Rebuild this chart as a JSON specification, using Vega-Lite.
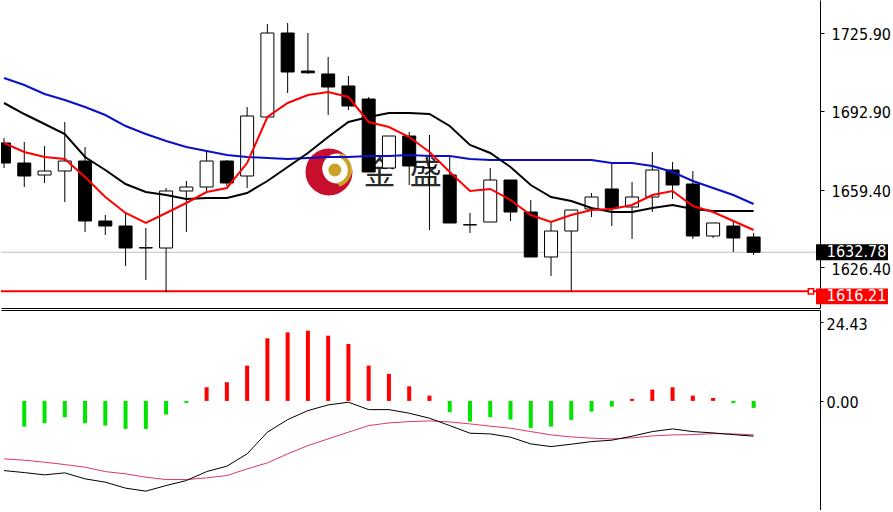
{
  "$schema": "https://vega.github.io/schema/vega-lite/v6.json",
  "padding": 0,
  "background": "white",
  "spacing": 2,
  "config": {
    "view": {"stroke": null},
    "axis": {
      "grid": false,
      "title": null,
      "labelFont": "DejaVu Sans Condensed, Liberation Sans, sans-serif",
      "labelFontSize": 16,
      "labelColor": "#000",
      "domainColor": "#000",
      "tickColor": "#000"
    }
  },
  "resolve": {
    "scale": {"x": "independent", "y": "independent"},
    "axis": {"x": "independent", "y": "independent"}
  },
  "datasets": {
    "k": [
      {"i": 0, "o": 1679.12, "h": 1681.24, "l": 1668.52, "c": 1670.64, "ma5": 1679.12, "ma10": 1696.09, "ma30": 1706.69},
      {"i": 1, "o": 1670.64, "h": 1679.55, "l": 1660.46, "c": 1665.13, "ma5": 1675.31, "ma10": 1691.42, "ma30": 1703.72},
      {"i": 2, "o": 1665.55, "h": 1677.85, "l": 1662.16, "c": 1667.25, "ma5": 1673.19, "ma10": 1687.18, "ma30": 1699.9},
      {"i": 3, "o": 1667.25, "h": 1688.03, "l": 1654.1, "c": 1671.49, "ma5": 1672.34, "ma10": 1682.94, "ma30": 1697.36},
      {"i": 4, "o": 1671.49, "h": 1677.43, "l": 1641.38, "c": 1646.04, "ma5": 1664.7, "ma10": 1673.19, "ma30": 1694.39},
      {"i": 5, "o": 1646.04, "h": 1648.59, "l": 1640.11, "c": 1643.92, "ma5": 1656.22, "ma10": 1667.67, "ma30": 1691.0},
      {"i": 6, "o": 1643.92, "h": 1649.44, "l": 1626.96, "c": 1634.59, "ma5": 1649.44, "ma10": 1661.74, "ma30": 1686.33},
      {"i": 7, "o": 1634.59, "h": 1643.08, "l": 1621.02, "c": 1634.75, "ma5": 1645.2, "ma10": 1658.34, "ma30": 1682.94},
      {"i": 8, "o": 1634.59, "h": 1660.04, "l": 1615.8, "c": 1658.77, "ma5": 1649.44, "ma10": 1657.07, "ma30": 1679.97},
      {"i": 9, "o": 1658.77, "h": 1663.01, "l": 1641.38, "c": 1660.46, "ma5": 1653.68, "ma10": 1655.37, "ma30": 1677.43},
      {"i": 10, "o": 1660.46, "h": 1675.73, "l": 1657.92, "c": 1671.49, "ma5": 1658.34, "ma10": 1655.8, "ma30": 1675.73},
      {"i": 11, "o": 1671.49, "h": 1671.91, "l": 1660.89, "c": 1662.16, "ma5": 1660.04, "ma10": 1655.8, "ma30": 1674.03},
      {"i": 12, "o": 1665.13, "h": 1694.39, "l": 1660.04, "c": 1690.57, "ma5": 1670.64, "ma10": 1657.92, "ma30": 1673.19},
      {"i": 13, "o": 1690.15, "h": 1729.59, "l": 1690.15, "c": 1725.77, "ma5": 1690.15, "ma10": 1663.01, "ma30": 1672.76},
      {"i": 14, "o": 1725.77, "h": 1730.01, "l": 1700.33, "c": 1709.23, "ma5": 1696.09, "ma10": 1668.95, "ma30": 1672.34},
      {"i": 15, "o": 1709.65, "h": 1725.77, "l": 1708.39, "c": 1708.9, "ma5": 1699.48, "ma10": 1674.88, "ma30": 1672.76},
      {"i": 16, "o": 1708.39, "h": 1715.6, "l": 1691.0, "c": 1702.87, "ma5": 1700.75, "ma10": 1681.67, "ma30": 1673.19},
      {"i": 17, "o": 1703.3, "h": 1707.54, "l": 1693.12, "c": 1694.81, "ma5": 1698.63, "ma10": 1688.03, "ma30": 1673.19},
      {"i": 18, "o": 1697.78, "h": 1698.63, "l": 1666.83, "c": 1666.83, "ma5": 1688.03, "ma10": 1690.15, "ma30": 1673.61},
      {"i": 19, "o": 1668.52, "h": 1682.09, "l": 1668.52, "c": 1682.09, "ma5": 1685.91, "ma10": 1691.85, "ma30": 1673.61},
      {"i": 20, "o": 1682.09, "h": 1683.79, "l": 1661.31, "c": 1669.37, "ma5": 1681.67, "ma10": 1691.85, "ma30": 1674.03},
      {"i": 21, "o": 1668.52, "h": 1682.52, "l": 1642.23, "c": 1668.7, "ma5": 1675.31, "ma10": 1691.42, "ma30": 1673.61},
      {"i": 22, "o": 1665.55, "h": 1673.19, "l": 1645.2, "c": 1645.2, "ma5": 1666.83, "ma10": 1686.33, "ma30": 1673.61},
      {"i": 23, "o": 1644.35, "h": 1649.44, "l": 1640.96, "c": 1644.5, "ma5": 1658.77, "ma10": 1678.28, "ma30": 1672.34},
      {"i": 24, "o": 1645.62, "h": 1668.52, "l": 1645.62, "c": 1663.43, "ma5": 1659.62, "ma10": 1674.88, "ma30": 1671.91},
      {"i": 25, "o": 1663.43, "h": 1663.43, "l": 1646.04, "c": 1649.86, "ma5": 1654.95, "ma10": 1668.95, "ma30": 1671.91},
      {"i": 26, "o": 1649.86, "h": 1654.95, "l": 1630.78, "c": 1630.78, "ma5": 1648.59, "ma10": 1661.31, "ma30": 1671.91},
      {"i": 27, "o": 1630.78, "h": 1645.62, "l": 1622.72, "c": 1641.8, "ma5": 1645.62, "ma10": 1656.22, "ma30": 1671.91},
      {"i": 28, "o": 1641.8, "h": 1650.71, "l": 1616.3, "c": 1650.71, "ma5": 1648.59, "ma10": 1654.53, "ma30": 1671.91},
      {"i": 29, "o": 1651.13, "h": 1657.92, "l": 1647.74, "c": 1656.22, "ma5": 1650.71, "ma10": 1651.56, "ma30": 1671.91},
      {"i": 30, "o": 1659.62, "h": 1670.64, "l": 1643.92, "c": 1651.56, "ma5": 1651.13, "ma10": 1649.86, "ma30": 1670.64},
      {"i": 31, "o": 1651.98, "h": 1662.58, "l": 1638.41, "c": 1656.22, "ma5": 1652.83, "ma10": 1649.86, "ma30": 1670.64},
      {"i": 32, "o": 1656.22, "h": 1675.31, "l": 1649.86, "c": 1667.67, "ma5": 1657.07, "ma10": 1651.56, "ma30": 1669.37},
      {"i": 33, "o": 1667.67, "h": 1671.07, "l": 1655.37, "c": 1661.31, "ma5": 1658.77, "ma10": 1652.83, "ma30": 1666.83},
      {"i": 34, "o": 1661.74, "h": 1667.25, "l": 1638.41, "c": 1639.68, "ma5": 1652.41, "ma10": 1651.13, "ma30": 1663.01},
      {"i": 35, "o": 1639.68, "h": 1645.2, "l": 1638.84, "c": 1645.2, "ma5": 1649.86, "ma10": 1650.29, "ma30": 1660.04},
      {"i": 36, "o": 1643.92, "h": 1646.47, "l": 1632.9, "c": 1638.84, "ma5": 1646.04, "ma10": 1650.29, "ma30": 1657.07},
      {"i": 37, "o": 1639.26, "h": 1640.96, "l": 1631.63, "c": 1632.78, "ma5": 1642.23, "ma10": 1650.29, "ma30": 1653.25}
    ],
    "m": [
      {"i": 0, "dif": -21.65, "dea": -18.01},
      {"i": 1, "dif": -22.27, "dea": -18.42, "hist": -7.98},
      {"i": 2, "dif": -22.98, "dea": -19.04, "hist": -6.93},
      {"i": 3, "dif": -22.36, "dea": -19.78, "hist": -5.06},
      {"i": 4, "dif": -24.22, "dea": -20.59, "hist": -6.93},
      {"i": 5, "dif": -25.25, "dea": -21.96, "hist": -7.67},
      {"i": 6, "dif": -27.11, "dea": -22.67, "hist": -8.7},
      {"i": 7, "dif": -28.04, "dea": -23.7, "hist": -8.7},
      {"i": 8, "dif": -26.3, "dea": -24.44, "hist": -4.25},
      {"i": 9, "dif": -24.75, "dea": -24.44, "hist": -0.62},
      {"i": 10, "dif": -21.96, "dea": -23.91, "hist": 4.25},
      {"i": 11, "dif": -20.28, "dea": -23.2, "hist": 5.81},
      {"i": 12, "dif": -16.46, "dea": -21.12, "hist": 10.97},
      {"i": 13, "dif": -9.72, "dea": -19.25, "hist": 19.47},
      {"i": 14, "dif": -5.81, "dea": -16.46, "hist": 21.33},
      {"i": 15, "dif": -3.01, "dea": -13.88, "hist": 21.83},
      {"i": 16, "dif": -1.24, "dea": -11.8, "hist": 20.28},
      {"i": 17, "dif": -0.4, "dea": -9.72, "hist": 17.7},
      {"i": 18, "dif": -2.7, "dea": -7.67, "hist": 10.97},
      {"i": 19, "dif": -2.7, "dea": -6.83, "hist": 8.39},
      {"i": 20, "dif": -3.82, "dea": -6.43, "hist": 4.56},
      {"i": 21, "dif": -5.37, "dea": -6.21, "hist": 1.65},
      {"i": 22, "dif": -7.67, "dea": -6.52, "hist": -3.51},
      {"i": 23, "dif": -10.03, "dea": -7.14, "hist": -6.43},
      {"i": 24, "dif": -10.25, "dea": -7.86, "hist": -5.06},
      {"i": 25, "dif": -11.27, "dea": -8.48, "hist": -5.81},
      {"i": 26, "dif": -13.35, "dea": -9.53, "hist": -8.39},
      {"i": 27, "dif": -14.19, "dea": -10.56, "hist": -7.98},
      {"i": 28, "dif": -13.45, "dea": -11.18, "hist": -5.9},
      {"i": 29, "dif": -12.64, "dea": -11.58, "hist": -3.32},
      {"i": 30, "dif": -12.2, "dea": -11.8, "hist": -1.77},
      {"i": 31, "dif": -10.96, "dea": -11.49, "hist": 0.62},
      {"i": 32, "dif": -9.53, "dea": -10.87, "hist": 3.51},
      {"i": 33, "dif": -8.7, "dea": -10.56, "hist": 4.25},
      {"i": 34, "dif": -9.53, "dea": -10.47, "hist": 1.65},
      {"i": 35, "dif": -9.94, "dea": -10.16, "hist": 0.93},
      {"i": 36, "dif": -10.47, "dea": -10.25, "hist": -0.71},
      {"i": 37, "dif": -10.96, "dea": -10.56, "hist": -2.17}
    ]
  },
  "vconcat": [
    {
      "width": 819,
      "height": 308,
      "layer": [
        {
          "data": {"values": [
            {"i": 16.04, "p": 1666.83, "col": "#c8102e", "sz": 2209},
            {"i": 16.45, "p": 1668.3, "col": "#ffffff", "sz": 900},
            {"i": 16.33, "p": 1667.67, "col": "#c9a227", "sz": 169}
          ]},
          "mark": {"type": "point", "shape": "circle", "filled": true, "opacity": 1, "clip": true},
          "encoding": {
            "x": {"field": "i", "type": "quantitative", "scale": {"domain": [0.098, 40.03], "nice": false, "zero": false}, "axis": {"orient": "bottom", "labels": false, "ticks": false, "domain": true}},
            "y": {"field": "p", "type": "quantitative", "scale": {"domain": [1609.15, 1739.77], "nice": false, "zero": false}, "axis": {"orient": "right", "values": [1725.9, 1692.9, 1659.4, 1626.4], "format": ".2f", "tickSize": 4, "labelPadding": 7, "labelOffset": 2}},
            "color": {"field": "col", "type": "nominal", "scale": null},
            "size": {"field": "sz", "type": "quantitative", "scale": null},
            "order": {"field": "sz", "sort": "descending"}
          }
        },
        {
          "data": {"values": [
            {"i": 16.33, "p": 1667.67}
          ]},
          "mark": {"type": "arc", "radius": 17, "radius2": 13, "theta": 0.3, "theta2": 2.9, "color": "#c9a227", "clip": true},
          "encoding": {
            "x": {"field": "i", "type": "quantitative"},
            "y": {"field": "p", "type": "quantitative"}
          }
        },
        {
          "data": {"values": [
            {"i": 18.53, "p": 1665.98, "t": "金"},
            {"i": 20.82, "p": 1665.98, "t": "盛"}
          ]},
          "mark": {"type": "text", "font": "Noto Sans CJK SC", "fontSize": 32, "color": "#2a2a2a", "align": "center", "baseline": "middle", "clip": true},
          "encoding": {
            "x": {"field": "i", "type": "quantitative"},
            "y": {"field": "p", "type": "quantitative"},
            "text": {"field": "t"}
          }
        },
        {
          "data": {"values": [{"p": 1632.78}]},
          "mark": {"type": "rule", "color": "#c0c0c0", "strokeWidth": 1},
          "encoding": {"y": {"field": "p", "type": "quantitative"}}
        },
        {
          "data": {"values": [{"p": 1616.21}]},
          "mark": {"type": "rule", "color": "#ff0000", "strokeWidth": 2},
          "encoding": {"y": {"field": "p", "type": "quantitative"}}
        },
        {
          "data": {"values": [{"i": 39.83, "p": 1616.21}]},
          "mark": {"type": "point", "shape": "square", "filled": true, "fill": "white", "stroke": "#ff0000", "strokeWidth": 1.5, "size": 28, "opacity": 1},
          "encoding": {
            "x": {"field": "i", "type": "quantitative"},
            "y": {"field": "p", "type": "quantitative"}
          }
        },
        {
          "data": {"name": "k"},
          "mark": {"type": "rule", "color": "#000", "strokeWidth": 1, "clip": true},
          "encoding": {
            "x": {"field": "i", "type": "quantitative"},
            "y": {"field": "l", "type": "quantitative"},
            "y2": {"field": "h"}
          }
        },
        {
          "data": {"name": "k"},
          "mark": {"type": "bar", "size": 13, "stroke": "#000", "strokeWidth": 1, "clip": true},
          "encoding": {
            "x": {"field": "i", "type": "quantitative"},
            "y": {"field": "o", "type": "quantitative"},
            "y2": {"field": "c"},
            "fill": {"condition": {"test": "datum.c >= datum.o", "value": "#ffffff"}, "value": "#000000"}
          }
        },
        {
          "data": {"name": "k"},
          "mark": {"type": "line", "color": "#0a10c8", "strokeWidth": 2, "clip": true},
          "encoding": {
            "x": {"field": "i", "type": "quantitative"},
            "y": {"field": "ma30", "type": "quantitative"}
          }
        },
        {
          "data": {"name": "k"},
          "mark": {"type": "line", "color": "#000000", "strokeWidth": 2, "clip": true},
          "encoding": {
            "x": {"field": "i", "type": "quantitative"},
            "y": {"field": "ma10", "type": "quantitative"}
          }
        },
        {
          "data": {"name": "k"},
          "mark": {"type": "line", "color": "#ff0000", "strokeWidth": 2, "clip": true},
          "encoding": {
            "x": {"field": "i", "type": "quantitative"},
            "y": {"field": "ma5", "type": "quantitative"}
          }
        },
        {
          "data": {"values": [
            {"i": 41.856, "p": 1632.78, "bg": "#000000"}
          ]},
          "mark": {"type": "point", "shape": "M-1,-0.22H1V0.22H-1Z", "filled": true, "size": 5184, "opacity": 1, "clip": false},
          "encoding": {
            "x": {"field": "i", "type": "quantitative"},
            "y": {"field": "p", "type": "quantitative"},
            "color": {"field": "bg", "type": "nominal", "scale": null}
          }
        },
        {
          "data": {"values": [
            {"i": 41.856, "p": 1616.21, "bg": "#ff0000"}
          ]},
          "mark": {"type": "point", "shape": "M-1,-0.22H1V0.22H-1Z", "filled": true, "size": 5184, "opacity": 1, "clip": false, "yOffset": 5},
          "encoding": {
            "x": {"field": "i", "type": "quantitative"},
            "y": {"field": "p", "type": "quantitative"},
            "color": {"field": "bg", "type": "nominal", "scale": null}
          }
        },
        {
          "data": {"values": [
            {"i": 40.613, "p": 1632.78, "t": "1632.78"}
          ]},
          "mark": {"type": "text", "align": "left", "baseline": "middle", "color": "#ffffff", "font": "DejaVu Sans Condensed, Liberation Sans, sans-serif", "fontSize": 16, "clip": false},
          "encoding": {
            "x": {"field": "i", "type": "quantitative"},
            "y": {"field": "p", "type": "quantitative"},
            "text": {"field": "t"}
          }
        },
        {
          "data": {"values": [
            {"i": 40.613, "p": 1616.21, "t": "1616.21"}
          ]},
          "mark": {"type": "text", "align": "left", "baseline": "middle", "color": "#ffffff", "font": "DejaVu Sans Condensed, Liberation Sans, sans-serif", "fontSize": 16, "clip": false, "yOffset": 5},
          "encoding": {
            "x": {"field": "i", "type": "quantitative"},
            "y": {"field": "p", "type": "quantitative"},
            "text": {"field": "t"}
          }
        }
      ]
    },
    {
      "width": 819,
      "height": 200,
      "data": {"name": "m"},
      "layer": [
        {
          "mark": {"type": "bar", "size": 4, "clip": true},
          "encoding": {
            "x": {"field": "i", "type": "quantitative", "scale": {"domain": [0.098, 40.03], "nice": false, "zero": false}, "axis": {"orient": "top", "labels": false, "ticks": false, "domain": true}},
            "y": {"field": "hist", "type": "quantitative", "scale": {"domain": [-33.9, 28.26], "nice": false, "zero": false}, "axis": {"orient": "right", "values": [24.43, 0], "format": ".2f", "tickSize": 3, "labelPadding": 3, "labelOffset": 2}},
            "y2": {"datum": 0},
            "color": {"condition": {"test": "datum.hist >= 0", "value": "#ff0000"}, "value": "#00e400"}
          }
        },
        {
          "mark": {"type": "line", "color": "#dc3a62", "strokeWidth": 1, "clip": true},
          "encoding": {
            "x": {"field": "i", "type": "quantitative"},
            "y": {"field": "dea", "type": "quantitative"}
          }
        },
        {
          "mark": {"type": "line", "color": "#000000", "strokeWidth": 1, "clip": true},
          "encoding": {
            "x": {"field": "i", "type": "quantitative"},
            "y": {"field": "dif", "type": "quantitative"}
          }
        }
      ]
    }
  ]
}
